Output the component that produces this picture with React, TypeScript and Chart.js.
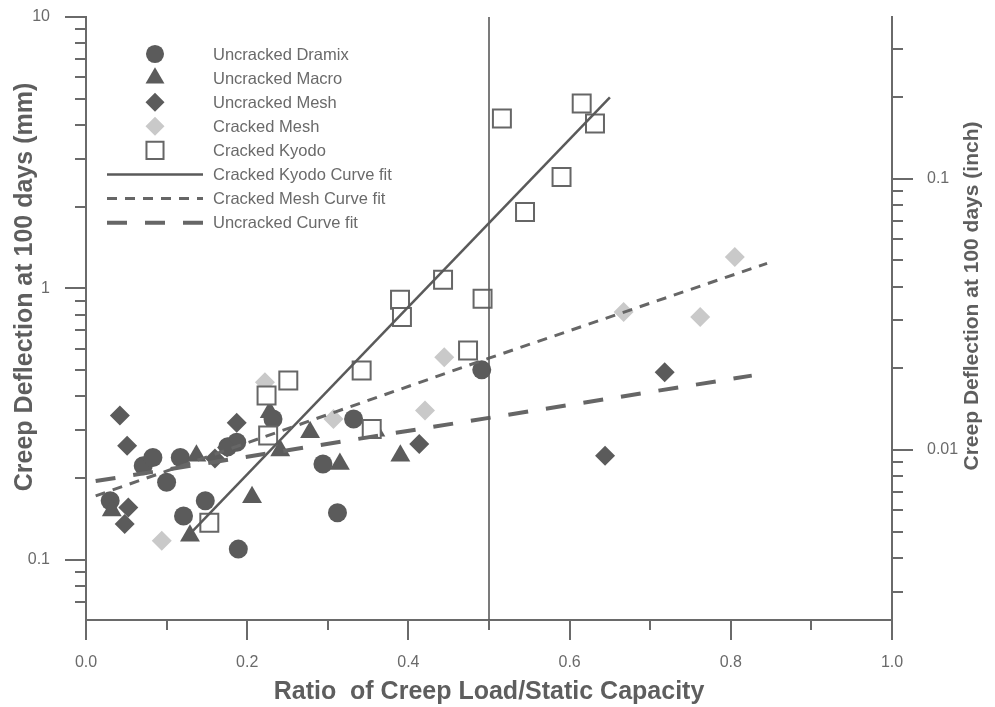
import { useEffect, useRef } from 'react';
import { Chart, registerables } from 'chart.js';

Chart.register(...registerables);

// ---------- data ----------
const uncrackedDramixX = [0.030, 0.071, 0.083, 0.100, 0.117, 0.121, 0.148, 0.176, 0.187, 0.189, 0.232, 0.294, 0.312, 0.332, 0.491];
const uncrackedDramixY = [0.165, 0.222, 0.238, 0.193, 0.238, 0.145, 0.165, 0.261, 0.271, 0.1095, 0.330, 0.2255, 0.149, 0.330, 0.501];

const uncrackedMacroX = [0.032, 0.129, 0.137, 0.206, 0.228, 0.241, 0.278, 0.315, 0.359, 0.390];
const uncrackedMacroY = [0.152, 0.1227, 0.242, 0.170, 0.350, 0.2525, 0.295, 0.2255, 0.299, 0.242];

const uncrackedMeshX = [0.042, 0.051, 0.0525, 0.048, 0.160, 0.175, 0.187, 0.4135, 0.644, 0.718];
const uncrackedMeshY = [0.340, 0.263, 0.156, 0.1355, 0.236, 0.259, 0.320, 0.267, 0.242, 0.491];

const crackedMeshX = [0.094, 0.222, 0.307, 0.4206, 0.4445, 0.667, 0.762, 0.805];
const crackedMeshY = [0.1175, 0.451, 0.330, 0.355, 0.558, 0.818, 0.784, 1.305];

const crackedKyodoX = [0.153, 0.224, 0.226, 0.251, 0.342, 0.3545, 0.3896, 0.392, 0.443, 0.474, 0.492, 0.516, 0.5447, 0.590, 0.615, 0.6315];
const crackedKyodoY = [0.137, 0.403, 0.287, 0.4575, 0.498, 0.3035, 0.908, 0.784, 1.077, 0.590, 0.916, 4.23, 1.912, 2.575, 4.80, 4.05];

const kyodoFitX = [0.129, 0.650];
const kyodoFitY = [0.1247, 5.06];

const meshFitX = [0.012, 0.499, 0.845];
const meshFitY = [0.172, 0.552, 1.237];

const uncrackedFitX = [0.012, 0.826];
const uncrackedFitY = [0.195, 0.477];

const refLineX = [0.5, 0.5];
const refLineY = [0.06, 10];

const xMajorTicks = [0, 0.2, 0.4, 0.6, 0.8, 1.0];
const xMinorTicks = [0.1, 0.3, 0.5, 0.7, 0.9];
const yMajorTicks = [0.1, 1, 10];
const yMinorTicks = [0.07, 0.08, 0.09, 0.2, 0.3, 0.4, 0.5, 0.6, 0.7, 0.8, 0.9, 2, 3, 4, 5, 6, 7, 8, 9];
const inchMajorTicks = [0.01, 0.1];
const inchMinorTicks = [0.003, 0.004, 0.005, 0.006, 0.007, 0.008, 0.009, 0.02, 0.03, 0.04, 0.05, 0.06, 0.07, 0.08, 0.09, 0.2, 0.3];

const legendLabels = [
  'Uncracked Dramix',
  'Uncracked Macro',
  'Uncracked Mesh',
  'Cracked Mesh',
  'Cracked Kyodo',
  'Cracked Kyodo Curve fit',
  'Cracked Mesh Curve fit',
  'Uncracked Curve fit',
];

const Y_MIN = 0.06;
const Y_MAX = 10;
const MM_PER_INCH = 25.4;

// ---------- styles ----------
const FONT = '"Liberation Sans", Arial, Helvetica, sans-serif';
const DARK = '#5b5b5b';
const LIGHT = '#c9c9c9';
const AXIS = '#6a6a6a';
const TEXT = '#6a6a6a';
const TITLE = '#5e5e5e';

const pts = (xs: number[], ys: number[]) => xs.map((x, i) => ({ x, y: ys[i] }));
const isIn = (v: number, arr: number[]) => arr.some((a) => Math.abs(a - v) < 1e-9);

function drawMarker(ctx: CanvasRenderingContext2D, style: string, x: number, y: number, r: number, fill: string, stroke: string, bw: number) {
  ctx.beginPath();
  if (style === 'circle') {
    ctx.arc(x, y, r, 0, Math.PI * 2);
  } else if (style === 'triangle') {
    let a = 0;
    ctx.moveTo(x + Math.sin(a) * r, y - Math.cos(a) * r);
    a += (Math.PI * 2) / 3;
    ctx.lineTo(x + Math.sin(a) * r, y - Math.cos(a) * r);
    a += (Math.PI * 2) / 3;
    ctx.lineTo(x + Math.sin(a) * r, y - Math.cos(a) * r);
    ctx.closePath();
  } else if (style === 'rectRot') {
    ctx.moveTo(x, y - r);
    ctx.lineTo(x + r, y);
    ctx.lineTo(x, y + r);
    ctx.lineTo(x - r, y);
    ctx.closePath();
  } else if (style === 'rect') {
    const s = r * Math.SQRT1_2;
    ctx.rect(x - s, y - s, 2 * s, 2 * s);
  }
  ctx.fillStyle = fill;
  ctx.fill();
  if (bw > 0) {
    ctx.lineWidth = bw;
    ctx.strokeStyle = stroke;
    ctx.stroke();
  }
}

const axisTicksPlugin = {
  id: 'axisTicks',
  afterDraw(chart: any) {
    const ctx = chart.ctx as CanvasRenderingContext2D;
    const { x, y, y2 } = chart.scales;
    ctx.save();
    ctx.strokeStyle = AXIS;
    ctx.lineWidth = 2;
    const seg = (x1: number, y1: number, x2: number, y2v: number) => {
      ctx.beginPath();
      ctx.moveTo(x1, y1);
      ctx.lineTo(x2, y2v);
      ctx.stroke();
    };
    const r = (v: number) => Math.round(v);
    xMajorTicks.forEach((v) => { const p = r(x.getPixelForValue(v)); seg(p, x.top, p, x.top + 20); });
    xMinorTicks.forEach((v) => { const p = r(x.getPixelForValue(v)); seg(p, x.top, p, x.top + 10); });
    yMajorTicks.forEach((v) => { const p = r(y.getPixelForValue(v)); seg(y.right, p, y.right - 21, p); });
    yMinorTicks.forEach((v) => { const p = r(y.getPixelForValue(v)); seg(y.right, p, y.right - 11, p); });
    inchMajorTicks.forEach((v) => { const p = r(y2.getPixelForValue(v)); seg(y2.left, p, y2.left + 21, p); });
    inchMinorTicks.forEach((v) => { const p = r(y2.getPixelForValue(v)); seg(y2.left, p, y2.left + 11, p); });
    ctx.restore();
  },
};

const titlesPlugin = {
  id: 'axisTitles',
  afterDraw(chart: any) {
    const ctx = chart.ctx as CanvasRenderingContext2D;
    const { x } = chart.scales;
    ctx.save();
    ctx.fillStyle = TITLE;
    ctx.textAlign = 'center';
    ctx.textBaseline = 'middle';
    ctx.font = `bold 25px ${FONT}`;
    ctx.fillText('Ratio  of Creep Load/Static Capacity', (x.left + x.right) / 2, 692);
    ctx.save();
    ctx.translate(25, 287);
    ctx.rotate(-Math.PI / 2);
    ctx.fillText('Creep Deflection at 100 days (mm)', 0, 0);
    ctx.restore();
    ctx.save();
    ctx.font = `bold 21px ${FONT}`;
    ctx.translate(972, 296);
    ctx.rotate(-Math.PI / 2);
    ctx.fillText('Creep Deflection at 100 days (inch)', 0, 0);
    ctx.restore();
    ctx.restore();
  },
};

const legendPlugin = {
  id: 'insetLegend',
  afterDraw(chart: any) {
    const ctx = chart.ctx as CanvasRenderingContext2D;
    const sets = chart.data.datasets.filter((d: any) => d.legendRow !== undefined);
    ctx.save();
    ctx.font = `16.5px ${FONT}`;
    ctx.textBaseline = 'middle';
    ctx.textAlign = 'left';
    sets.forEach((d: any) => {
      const row = d.legendRow as number;
      const cy = 54 + row * 24.1;
      if (d.showLine) {
        ctx.save();
        ctx.strokeStyle = d.borderColor;
        ctx.lineWidth = d.borderWidth;
        ctx.setLineDash(d.borderDash || []);
        ctx.beginPath();
        ctx.moveTo(107, cy);
        ctx.lineTo(203, cy);
        ctx.stroke();
        ctx.restore();
      } else {
        drawMarker(ctx, d.pointStyle, 155, cy, d.pointRadius * 0.95, d.pointBackgroundColor, d.pointBorderColor, d.pointBorderWidth);
      }
      ctx.fillStyle = TEXT;
      ctx.fillText(legendLabels[row], 213, cy + 1);
    });
    ctx.restore();
  },
};

const zeroPad = (s: any) => {
  s.paddingTop = 0;
  s.paddingBottom = 0;
  s.paddingLeft = 0;
  s.paddingRight = 0;
};

export default function App() {
  const ref = useRef<HTMLCanvasElement>(null);

  useEffect(() => {
    if (!ref.current) return;
    const chart = new Chart(ref.current, {
      type: 'scatter',
      data: {
        datasets: [
          { label: legendLabels[0], legendRow: 0, data: pts(uncrackedDramixX, uncrackedDramixY), pointStyle: 'circle', pointRadius: 9.5, pointBackgroundColor: DARK, pointBorderColor: DARK, pointBorderWidth: 0, order: 9 } as any,
          { label: legendLabels[1], legendRow: 1, data: pts(uncrackedMacroX, uncrackedMacroY), pointStyle: 'triangle', pointRadius: 11.5, pointBackgroundColor: DARK, pointBorderColor: DARK, pointBorderWidth: 0, order: 8 },
          { label: legendLabels[2], legendRow: 2, data: pts(uncrackedMeshX, uncrackedMeshY), pointStyle: 'rectRot', pointRadius: 10, pointBackgroundColor: DARK, pointBorderColor: DARK, pointBorderWidth: 0, order: 7 },
          { label: legendLabels[3], legendRow: 3, data: pts(crackedMeshX, crackedMeshY), pointStyle: 'rectRot', pointRadius: 10, pointBackgroundColor: LIGHT, pointBorderColor: LIGHT, pointBorderWidth: 0, order: 6 },
          { label: legendLabels[4], legendRow: 4, data: pts(crackedKyodoX, crackedKyodoY), pointStyle: 'rect', pointRadius: 12.7, pointBackgroundColor: '#ffffff', pointBorderColor: '#666666', pointBorderWidth: 2, order: 5 },
          { label: legendLabels[5], legendRow: 5, data: pts(kyodoFitX, kyodoFitY), showLine: true, pointRadius: 0, borderColor: '#5a5a5a', borderWidth: 2.5, borderDash: [], order: 3 },
          { label: legendLabels[6], legendRow: 6, data: pts(meshFitX, meshFitY), showLine: true, pointRadius: 0, borderColor: '#666666', borderWidth: 3, borderDash: [10, 8], order: 2 },
          { label: legendLabels[7], legendRow: 7, data: pts(uncrackedFitX, uncrackedFitY), showLine: true, pointRadius: 0, borderColor: '#666666', borderWidth: 4, borderDash: [20, 18], order: 1 },
          { label: 'ratio 0.5', data: pts(refLineX, refLineY), showLine: true, pointRadius: 0, borderColor: '#5a5a5a', borderWidth: 1.6, order: 0 },
        ] as any,
      },
      options: {
        responsive: false,
        animation: false,
        devicePixelRatio: 1,
        events: [],
        layout: { padding: { top: 17, left: 0, right: 0, bottom: 0 }, autoPadding: false } as any,
        plugins: { legend: { display: false }, tooltip: { enabled: false } },
        scales: {
          x: {
            type: 'linear',
            position: 'bottom',
            min: 0,
            max: 1,
            grid: { display: false },
            border: { display: true, color: AXIS, width: 2 },
            afterBuildTicks: (s: any) => { s.ticks = [...xMajorTicks, ...xMinorTicks].sort((a, b) => a - b).map((v) => ({ value: v })); },
            afterFit: (s: any) => { s.height = 87; zeroPad(s); },
            ticks: {
              autoSkip: false,
              maxRotation: 0,
              padding: 25,
              color: TEXT,
              font: { family: FONT, size: 16 },
              callback: (v: any) => (isIn(Number(v), xMajorTicks) ? Number(v).toFixed(1) : ''),
            },
          },
          y: {
            type: 'logarithmic',
            position: 'left',
            min: Y_MIN,
            max: Y_MAX,
            grid: { display: false },
            border: { display: true, color: AXIS, width: 2 },
            afterBuildTicks: (s: any) => { s.ticks = [...yMajorTicks, ...yMinorTicks].sort((a, b) => a - b).map((v) => ({ value: v })); },
            afterFit: (s: any) => { s.width = 86; zeroPad(s); },
            ticks: {
              autoSkip: false,
              padding: 28,
              color: TEXT,
              font: { family: FONT, size: 16 },
              callback: (v: any) => (isIn(Number(v), yMajorTicks) ? String(Number(v)) : ''),
            },
          },
          y2: {
            type: 'logarithmic',
            position: 'right',
            display: true,
            min: Y_MIN / MM_PER_INCH,
            max: Y_MAX / MM_PER_INCH,
            grid: { display: false },
            border: { display: true, color: AXIS, width: 2 },
            afterBuildTicks: (s: any) => { s.ticks = [...inchMajorTicks, ...inchMinorTicks].sort((a, b) => a - b).map((v) => ({ value: v })); },
            afterFit: (s: any) => { s.width = 103; zeroPad(s); },
            ticks: {
              autoSkip: false,
              padding: 27,
              color: TEXT,
              font: { family: FONT, size: 16 },
              callback: (v: any) => (isIn(Number(v), inchMajorTicks) ? String(Number(v)) : ''),
            },
          },
        },
      } as any,
      plugins: [axisTicksPlugin, titlesPlugin, legendPlugin],
    });
    return () => chart.destroy();
  }, []);

  return (
    <div style={{ position: 'fixed', left: 0, top: 0, width: 995, height: 707, background: '#ffffff' }}>
      <canvas ref={ref} width={995} height={707} style={{ display: 'block', width: 995, height: 707 }} />
    </div>
  );
}
